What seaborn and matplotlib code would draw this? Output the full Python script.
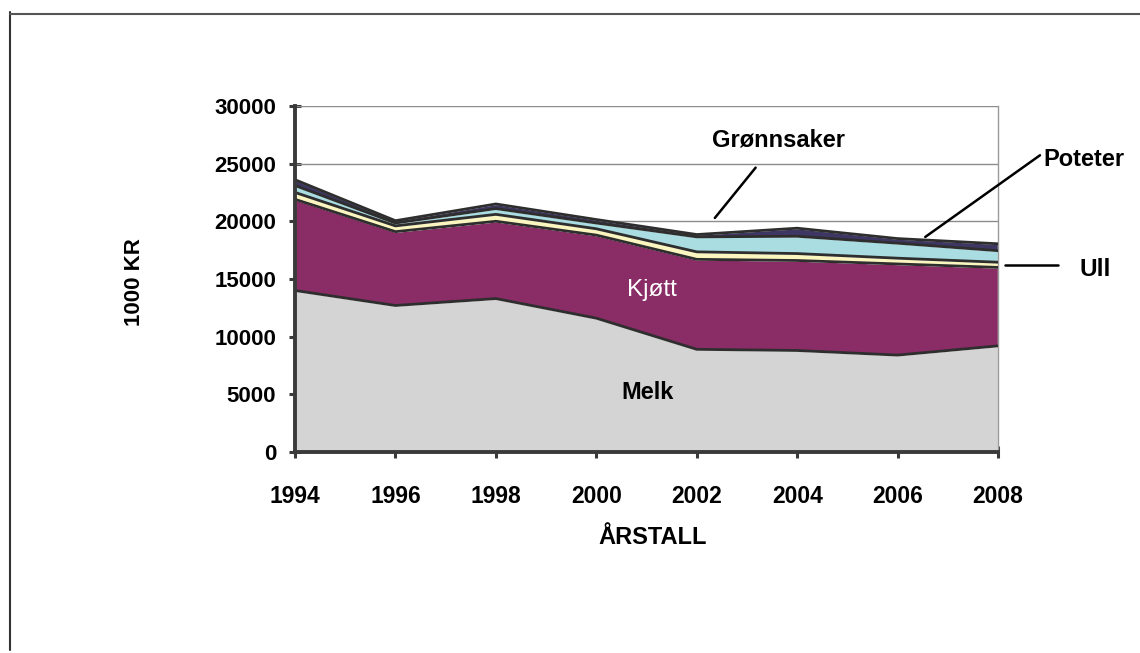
import numpy as np
import pandas as pd
import seaborn as sns
import matplotlib.pyplot as plt
from matplotlib.lines import Line2D

years = [1994, 1996, 1998, 2000, 2002, 2004, 2006, 2008]
melk = [14000, 12700, 13300, 11600, 8900, 8800, 8400, 9200]
kjott = [7900, 6400, 6700, 7200, 7800, 7800, 7900, 6800]
ull = [600, 500, 600, 550, 650, 600, 500, 450]
gronnsaker = [600, 250, 500, 500, 1300, 1500, 1300, 1000]
poteter = [500, 200, 400, 300, 200, 700, 400, 600]

series = ["Melk", "Kjøtt", "Ull", "Grønnsaker", "Poteter"]
colors = ["#d4d4d4", "#8a2c66", "#fbf6c0", "#a9dde2", "#3e3763"]

df = pd.DataFrame({"År": years, "Melk": melk, "Kjøtt": kjott, "Ull": ull,
                   "Grønnsaker": gronnsaker, "Poteter": poteter})
cum = df[series].cumsum(axis=1)
cum["År"] = df["År"]
long = cum.melt(id_vars="År", var_name="Serie", value_name="Topp")

sns.set_theme(style="white")
plt.rcParams['font.family'] = ['Liberation Sans', 'DejaVu Sans']
plt.rcParams['text.color'] = 'black'
plt.rcParams['axes.labelcolor'] = 'black'
plt.rcParams['xtick.color'] = 'black'
plt.rcParams['ytick.color'] = 'black'

fig = plt.figure(figsize=(11.4, 6.53), dpi=100)
ax = fig.add_axes([0.2588, 0.3078, 0.6167, 0.5300])

ax.stackplot(df["År"], [df[s] for s in series], colors=colors, zorder=2)
sns.lineplot(data=long, x="År", y="Topp", units="Serie", estimator=None,
             color="#2e2e2e", linewidth=2, ax=ax, zorder=3, legend=False)

ax.set_xlim(1994, 2008)
ax.set_ylim(0, 30000)
ax.set_xticks(years)
ax.set_yticks(range(0, 30001, 5000))
for yv in range(5000, 30001, 5000):
    ax.axhline(yv, color="#8c8c8c", linewidth=1, zorder=1)

for side in ["left", "bottom"]:
    ax.spines[side].set_color("#3a3a3a")
    ax.spines[side].set_linewidth(2.8)
    ax.spines[side].set_zorder(5)
ax.spines["top"].set_visible(False)
ax.spines["right"].set_color("#9a9a9a")
ax.spines["right"].set_linewidth(1)

ax.tick_params(axis="both", direction="inout", length=9, width=2.2, color="#3a3a3a",
               left=True, bottom=True, labelcolor="black")
ax.tick_params(axis="y", labelsize=16, pad=9)
ax.tick_params(axis="x", labelsize=16.5, pad=19)
for lab in ax.get_xticklabels() + ax.get_yticklabels():
    lab.set_fontweight("bold")

ax.set_xlabel("ÅRSTALL", fontsize=17, fontweight="bold")
ax.set_ylabel("1000 KR", fontsize=16, fontweight="bold")
ax.xaxis.set_label_coords(0.508, -0.215)
ax.yaxis.set_label_coords(-0.213, 0.49)

ax.text(2001.11, 14046, "Kjøtt", color="white", fontsize=17.5, ha="center", va="center", zorder=6)
ax.text(2001.03, 5116, "Melk", color="black", fontsize=17, fontweight="bold",
        ha="center", va="center", zorder=6)

ax.annotate("Grønnsaker", xy=(2002.36, 20289), xytext=(2003.62, 27052),
            fontsize=17, fontweight="bold", ha="center", va="center",
            arrowprops=dict(arrowstyle="-", color="black", lw=1.8, shrinkA=12, shrinkB=0),
            annotation_clip=False, zorder=6)
ax.annotate("Poteter", xy=(2006.55, 18642), xytext=(2008.90, 25318),
            fontsize=17, fontweight="bold", ha="left", va="center",
            arrowprops=dict(arrowstyle="-", color="black", lw=1.8, shrinkA=0, shrinkB=0,
                            relpos=(0.07, 0.98)),
            annotation_clip=False, zorder=6)
# Ull: vannrett strek og tekst
ax.plot([2008.14, 2009.19], [16214, 16214], color="black", lw=1.8, clip_on=False, zorder=6)
ax.text(2009.63, 15780, "Ull", fontsize=17.5, fontweight="bold", ha="left", va="center",
        zorder=6)

# ytre ramme
fig.add_artist(Line2D([10 / 1140, 10 / 1140], [1 - 12 / 653, 1 - 650 / 653],
                      transform=fig.transFigure, color="#333333", linewidth=1.5))
fig.add_artist(Line2D([10 / 1140, 1.0], [1 - 14 / 653, 1 - 14 / 653],
                      transform=fig.transFigure, color="#555555", linewidth=1.5))

fig.savefig("out.png", dpi=100)
